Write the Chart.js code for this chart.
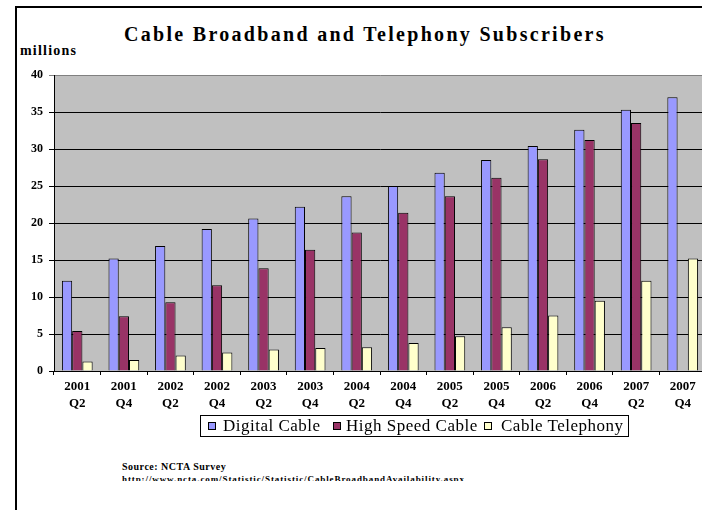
<!DOCTYPE html>
<html>
<head>
<meta charset="utf-8">
<script src="https://cdn.jsdelivr.net/npm/chart.js@4.4.1/dist/chart.umd.min.js"></script>
<style>
  html, body { margin: 0; padding: 0; background: #fff; overflow: hidden; width: 702px; height: 510px; }
  .frame { position: absolute; left: 15px; top: 6px; width: 800px; height: 600px; border-left: 2px solid #000; border-top: 2px solid #000; }
  .wrap { position: absolute; left: 0; top: 0; width: 706px; height: 420px; }
  .serif { font-family: "Liberation Serif", "Times New Roman", serif; color: #000; position: absolute; white-space: nowrap; }
  #title { left: 124px; top: 23px; font-size: 20px; font-weight: bold; letter-spacing: 2.3px; }
  #unit { left: 20px; top: 43px; font-size: 14px; font-weight: bold; letter-spacing: 1.2px; }
  .legend { position: absolute; left: 200px; top: 415px; width: 429px; height: 22px; box-sizing: border-box; border: 1px solid #000; }
  .legend span.box { position: absolute; top: 6px; width: 8px; height: 8px; border: 1px solid #000; box-sizing: border-box; }
  .legend span.txt { position: absolute; top: 0px; font-size: 17px; line-height: 20px; letter-spacing: 0.5px; }
  #src { left: 122px; top: 461px; font-size: 10px; font-weight: bold; letter-spacing: 0.5px; }
  #url { left: 122px; top: 474px; font-size: 9px; font-weight: bold; letter-spacing: 0.9px; height: 7px; overflow: hidden; line-height: 10px; }
</style>
</head>
<body>
<div class="frame"></div>
<div class="serif" id="title">Cable Broadband and Telephony Subscribers</div>
<div class="serif" id="unit">millions</div>
<div class="wrap"><canvas id="subsChart"></canvas></div>
<div class="legend serif" id="legend"></div>
<div class="serif" id="src">Source: NCTA Survey</div>
<div class="serif" id="url">http://www.ncta.com/Statistic/Statistic/CableBroadbandAvailability.aspx</div>

<script>
// quarters shown on the x axis (year / quarter on two lines)
const quarters = [
    ['2001', 'Q2'], ['2001', 'Q4'], ['2002', 'Q2'], ['2002', 'Q4'],
    ['2003', 'Q2'], ['2003', 'Q4'], ['2004', 'Q2'], ['2004', 'Q4'],
    ['2005', 'Q2'], ['2005', 'Q4'], ['2006', 'Q2'], ['2006', 'Q4'],
    ['2007', 'Q2'], ['2007', 'Q4']
];

// subscribers, millions
const digitalCable = [12.2, 15.2, 16.9, 19.2, 20.6, 22.2, 23.6, 25.0, 26.8, 28.5, 30.4, 32.6, 35.3, 37.0];
const highSpeedCable = [5.4, 7.4, 9.3, 11.6, 13.9, 16.4, 18.7, 21.4, 23.6, 26.1, 28.6, 31.2, 33.5, null];
const cableTelephony = [1.3, 1.5, 2.1, 2.5, 2.9, 3.1, 3.2, 3.8, 4.7, 5.9, 7.5, 9.5, 12.2, 15.2];

const seriesNames = ['Digital Cable', 'High Speed Cable', 'Cable Telephony'];
const seriesColors = ['#9999FF', '#993366', '#FFFFCC'];

const serif = '"Liberation Serif", "Times New Roman", serif';

// grey plot background
const plotBackground = {
    id: 'plotBackground',
    beforeDraw(chart) {
        const { ctx, chartArea: a } = chart;
        ctx.save();
        ctx.fillStyle = '#C0C0C0';
        ctx.fillRect(a.left, a.top, a.right - a.left, a.bottom - a.top);
        ctx.restore();
    }
};

const chart = new Chart(document.getElementById('subsChart'), {
    type: 'bar',
    data: {
        labels: quarters,
        datasets: [digitalCable, highSpeedCable, cableTelephony].map((d, i) => ({
            label: seriesNames[i],
            data: d,
            backgroundColor: seriesColors[i],
            borderColor: '#000',
            borderWidth: 1,
            categoryPercentage: 0.66,
            barPercentage: 1.0
        }))
    },
    options: {
        responsive: true,
        maintainAspectRatio: false,
        animation: false,
        layout: { padding: { top: 75, left: 0, right: 0, bottom: 0 } },
        plugins: {
            legend: { display: false },
            title: { display: false },
            tooltip: { enabled: false }
        },
        scales: {
            x: {
                offset: true,
                afterFit: s => { s.height = 49; },
                grid: {
                    offset: true,
                    drawOnChartArea: false,
                    tickLength: 4,
                    color: '#000'
                },
                border: { color: '#000', width: 1 },
                ticks: {
                    color: '#000',
                    padding: 4,
                    maxRotation: 0,
                    autoSkip: false,
                    font: { family: serif, size: 13, weight: 'bold', lineHeight: 1.25 }
                }
            },
            y: {
                min: 0,
                max: 40,
                afterFit: s => { s.width = 54; },
                grid: {
                    color: ctx => (ctx.tick && ctx.tick.value === 40 ? '#808080' : '#000'),
                    tickLength: 5,
                    lineWidth: 1
                },
                border: { color: '#000', width: 1 },
                ticks: {
                    stepSize: 5,
                    color: '#000',
                    padding: 6,
                    font: { family: serif, size: 12, weight: 'bold' }
                }
            }
        }
    },
    plugins: [plotBackground]
});

// legend box below the chart
const legendEl = document.getElementById('legend');
const boxLeft = [7, 132, 283];
const textLeft = [22, 145, 300];
seriesNames.forEach((name, i) => {
    const b = document.createElement('span');
    b.className = 'box';
    b.style.left = boxLeft[i] + 'px';
    b.style.background = seriesColors[i];
    legendEl.appendChild(b);
    const t = document.createElement('span');
    t.className = 'txt';
    t.style.left = textLeft[i] + 'px';
    t.textContent = name;
    legendEl.appendChild(t);
});
</script>
</body>
</html>
